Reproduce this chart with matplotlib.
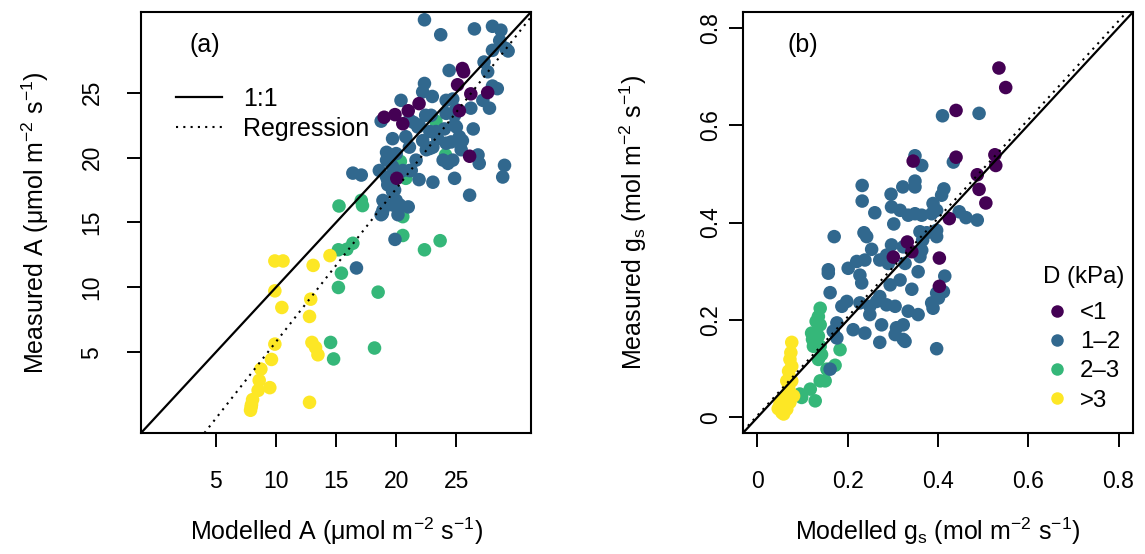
import matplotlib
matplotlib.use("Agg")
import matplotlib.pyplot as plt
from matplotlib.lines import Line2D

plt.rcParams['font.family'] = ['Liberation Sans', 'DejaVu Sans']
plt.rcParams['mathtext.fontset'] = 'custom'
plt.rcParams['mathtext.rm'] = 'Liberation Sans'
plt.rcParams['mathtext.it'] = 'Liberation Sans:italic'
plt.rcParams['mathtext.bf'] = 'Liberation Sans:bold'

TICK_FS = 16.5
LABEL_FS = 18
LEGA_FS = 18
LEGB_FS = 17.3
COLS = ['#440154', '#31688E', '#35B779', '#FDE725']
LEGEND_TITLE = 'D (kPa)'
LEGEND_LABELS = ['<1', '1\u20132', '2\u20133', '>3']

# ---------------- Panel (a): photosynthesis ----------------
a_lt1_x = [25.5, 25.6, 25.1, 26.2, 27.6, 21.9, 21.0, 19.9, 19.0, 20.55, 25.25, 26.1, 20.05]
a_lt1_y = [26.85, 26.6, 25.6, 24.9, 25.0, 24.15, 23.6, 23.3, 23.1, 22.6, 23.6, 20.1, 18.4]

a_12_x = [22.35, 23.7, 26.5, 28.0, 28.7, 28.6, 29.1, 28.0, 27.3, 29.3, 24.4, 22.35, 22.2, 23.0,
          24.15, 28.0, 28.4, 27.2, 27.75, 26.2, 24.85, 22.9, 22.45, 21.1, 20.4, 19.7, 20.8, 21.8,
          22.2, 23.3, 24.0, 25.25, 26.4, 25.0, 24.15, 23.05, 22.5, 19.2, 20.0, 19.2, 18.6, 19.7,
          21.1, 21.9, 23.05, 24.7, 24.85, 25.4, 26.8, 26.9, 29.0, 28.85, 26.1, 16.4, 17.1, 19.2,
          19.3, 19.7, 20.0, 21.0, 18.9, 20.3, 18.75, 19.7, 18.85, 20.15, 19.9, 16.7, 27.6, 24.15,
          24.95, 24.7, 18.75, 21.45, 21.9, 22.8, 24.85, 25.5, 24.57, 23.45, 21.1, 19.45, 21.65,
          22.8, 23.9, 24.3, 19.3, 21.25, 19.87, 20.55, 18.9]
a_12_y = [30.6, 29.45, 29.9, 30.1, 29.8, 29.0, 28.4, 28.25, 27.35, 28.2, 26.7, 25.7, 25.05, 24.7,
          24.4, 25.5, 25.3, 24.4, 23.8, 23.8, 23.25, 23.25, 23.25, 22.9, 24.4, 21.45, 21.6, 22.35,
          21.3, 22.0, 22.2, 21.6, 22.2, 22.35, 21.1, 20.8, 20.6, 20.4, 20.3, 19.8, 19.0, 19.3,
          19.0, 18.3, 18.1, 19.8, 18.4, 20.6, 20.2, 19.55, 19.4, 18.5, 17.1, 18.8, 18.65, 18.5,
          17.9, 17.4, 16.7, 16.2, 15.95, 16.35, 15.6, 16.35, 15.7, 15.6, 13.7, 11.5, 26.6, 23.4,
          23.7, 24.5, 22.8, 22.7, 22.5, 22.0, 22.5, 21.3, 21.2, 21.45, 20.8, 19.8, 19.8,
          20.7, 19.8, 19.55, 18.26, 19.0, 17.5, 19.0, 16.7]

a_23_x = [15.25, 17.1, 17.2, 20.55, 20.55, 15.2, 15.9, 16.4, 15.45, 15.2, 18.5, 22.35, 23.65,
          14.55, 14.8, 18.2, 20.8, 20.35, 24.1, 23.3]
a_23_y = [16.27, 16.7, 16.3, 15.45, 14.0, 12.9, 12.94, 13.4, 11.1, 10.0, 9.64, 12.9, 13.6,
          5.77, 4.5, 5.34, 18.4, 19.7, 20.2, 22.8]

a_gt3_x = [9.92, 10.6, 13.1, 14.5, 9.92, 10.5, 12.9, 12.8, 9.92, 9.64, 13.0, 13.3, 13.5, 8.76,
           8.62, 8.53, 9.5, 8.07, 7.98, 7.9, 7.95, 12.8]
a_gt3_y = [12.04, 12.04, 11.7, 12.45, 9.74, 8.46, 9.1, 7.77, 5.64, 4.46, 5.77, 5.38, 4.82, 3.72,
           2.85, 2.08, 2.29, 1.37, 0.98, 0.55, 0.8, 1.16]

a_ticks = [5, 10, 15, 20, 25]
a_lim = (0, 30)
a_reg_intercept, a_reg_slope = -6.0, 1.18

# ---------------- Panel (b): stomatal conductance ----------------
b_lt1_x = [0.535, 0.55, 0.44, 0.345, 0.44, 0.526, 0.528, 0.487, 0.491, 0.506, 0.425, 0.332,
           0.342, 0.403, 0.403, 0.301]
b_lt1_y = [0.717, 0.677, 0.63, 0.526, 0.534, 0.539, 0.517, 0.498, 0.468, 0.44, 0.408, 0.36,
           0.34, 0.327, 0.269, 0.329]

b_12_x = [0.41, 0.491, 0.349, 0.364, 0.434, 0.232, 0.232, 0.296, 0.322, 0.349, 0.349, 0.413,
          0.408, 0.26, 0.297, 0.316, 0.334, 0.349, 0.364, 0.389, 0.397, 0.386, 0.447, 0.462,
          0.487, 0.302, 0.236, 0.242, 0.17, 0.253, 0.297, 0.323, 0.36, 0.375, 0.397, 0.397,
          0.366, 0.364, 0.22, 0.238, 0.271, 0.286, 0.201, 0.157, 0.36, 0.327, 0.356, 0.29,
          0.316, 0.294, 0.342, 0.415, 0.412, 0.397, 0.386, 0.389, 0.286, 0.305, 0.334, 0.356,
          0.271, 0.275, 0.323, 0.305, 0.323, 0.271, 0.397, 0.157, 0.161, 0.187, 0.198, 0.227,
          0.231, 0.227, 0.176, 0.168, 0.176, 0.212, 0.238, 0.249, 0.249, 0.264, 0.308, 0.327,
          0.401, 0.161]
b_12_y = [0.619, 0.624, 0.537, 0.517, 0.524, 0.476, 0.444, 0.458, 0.473, 0.485, 0.473, 0.469,
          0.456, 0.42, 0.432, 0.425, 0.415, 0.418, 0.415, 0.439, 0.425, 0.418, 0.422, 0.41,
          0.405, 0.397, 0.379, 0.371, 0.371, 0.345, 0.354, 0.35, 0.381, 0.379, 0.384, 0.371,
          0.364, 0.343, 0.32, 0.323, 0.323, 0.333, 0.306, 0.303, 0.33, 0.316, 0.299, 0.316,
          0.282, 0.272, 0.263, 0.29, 0.258, 0.255, 0.235, 0.224, 0.231, 0.228, 0.218, 0.211,
          0.248, 0.19, 0.19, 0.17, 0.16, 0.154, 0.141, 0.296, 0.256, 0.228, 0.238, 0.292,
          0.276, 0.235, 0.194, 0.177, 0.163, 0.18, 0.173, 0.211, 0.228, 0.238, 0.184, 0.156,
          0.245, 0.099]

b_23_x = [0.139, 0.135, 0.13, 0.139, 0.12, 0.135, 0.122, 0.124, 0.139, 0.142, 0.135, 0.183,
          0.172, 0.154, 0.139, 0.15, 0.117, 0.094, 0.098, 0.128]
b_23_y = [0.224, 0.207, 0.197, 0.19, 0.173, 0.167, 0.16, 0.146, 0.146, 0.129, 0.119, 0.139,
          0.107, 0.099, 0.075, 0.075, 0.058, 0.048, 0.041, 0.034]

b_gt3_x = [0.076, 0.074, 0.072, 0.076, 0.069, 0.072, 0.065, 0.069, 0.072, 0.065, 0.054, 0.05,
           0.058, 0.046, 0.054, 0.065, 0.058, 0.072, 0.069, 0.061, 0.08, 0.076]
b_gt3_y = [0.154, 0.133, 0.119, 0.105, 0.095, 0.082, 0.075, 0.064, 0.051, 0.044, 0.037, 0.029,
           0.024, 0.018, 0.01, 0.017, 0.007, 0.031, 0.058, 0.034, 0.044, 0.075]

b_ticks = [0, 0.2, 0.4, 0.6, 0.8]
b_ticklabels = ['0', '0.2', '0.4', '0.6', '0.8']
b_lim = (0, 0.8)
b_reg_intercept, b_reg_slope = 0.004, 1.012

# ---------------- figure ----------------
W, H = 1145, 554
fig = plt.figure(figsize=(W / 100, H / 100), dpi=100)
ax_a = fig.add_axes([141 / W, 1 - 433 / H, 390 / W, 421 / H])
ax_b = fig.add_axes([743 / W, 1 - 433 / H, 390 / W, 421 / H])

MS = 95


def style(ax, lim, ticks, ticklabels, ypad):
    ext = 0.04 * (lim[1] - lim[0])
    ax.set_xlim(lim[0] - ext, lim[1] + ext)
    ax.set_ylim(lim[0] - ext, lim[1] + ext)
    ax.set_xticks(ticks)
    ax.set_yticks(ticks)
    ax.set_xticklabels(ticklabels, fontsize=TICK_FS)
    ax.set_yticklabels(ticklabels, fontsize=TICK_FS, rotation=90, va='center')
    ax.tick_params(axis='both', direction='out', length=10, width=1.4, color='black')
    ax.tick_params(axis='x', pad=17)
    ax.tick_params(axis='y', pad=ypad)
    for sp in ax.spines.values():
        sp.set_linewidth(1.5)


def draw(ax, groups, reg_int, reg_slope):
    order = [2, 1, 0, 3]
    for i in order:
        gx, gy = groups[i]
        ax.scatter(gx, gy, s=MS, c=COLS[i], edgecolors='none', zorder=2)
    ax.axline((0, 0), slope=1, color='black', lw=1.6, zorder=3)
    ax.axline((0, reg_int), slope=reg_slope, color='black', lw=1.5,
              linestyle=(0, (1, 2.5)), zorder=3)


draw(ax_a, [(a_lt1_x, a_lt1_y), (a_12_x, a_12_y), (a_23_x, a_23_y), (a_gt3_x, a_gt3_y)],
     a_reg_intercept, a_reg_slope)
draw(ax_b, [(b_lt1_x, b_lt1_y), (b_12_x, b_12_y), (b_23_x, b_23_y), (b_gt3_x, b_gt3_y)],
     b_reg_intercept, b_reg_slope)

style(ax_a, a_lim, a_ticks, [str(t) for t in a_ticks], 17)
style(ax_b, b_lim, b_ticks, b_ticklabels, 5)

# axis labels
ax_a.set_xlabel('Modelled A ($\\mathrm{\u03bc}$mol m$^{-2}$ s$^{-1}$)', fontsize=LABEL_FS)
ax_a.set_ylabel('Measured A ($\\mathrm{\u03bc}$mol m$^{-2}$ s$^{-1}$)', fontsize=LABEL_FS)
ax_b.set_xlabel('Modelled g$_{\\mathrm{s}}$ (mol m$^{-2}$ s$^{-1}$)', fontsize=LABEL_FS)
ax_b.set_ylabel('Measured g$_{\\mathrm{s}}$ (mol m$^{-2}$ s$^{-1}$)', fontsize=LABEL_FS)
for ax, ylx in ((ax_a, (35 - 141) / 390), (ax_b, (633 - 743) / 390)):
    ax.xaxis.set_label_coords(0.5, (433 - 531.7) / 421)
    ax.xaxis.label.set_va('center')
    ax.yaxis.set_label_coords(ylx, 0.5)
    ax.yaxis.label.set_va('center')

ax_a.text(0.164, 0.922, '(a)', transform=ax_a.transAxes, fontsize=LABEL_FS, ha='center', va='center')
ax_b.text(0.154, 0.922, '(b)', transform=ax_b.transAxes, fontsize=LABEL_FS, ha='center', va='center')

# legend (a): line types
line_handles = [Line2D([], [], color='black', lw=1.6),
                Line2D([], [], color='black', lw=1.5, linestyle=(0, (1, 2.5)))]
ax_a.legend(line_handles, ['1:1', 'Regression'], loc='upper left',
            bbox_to_anchor=(0.09, 0.823), frameon=False, fontsize=LEGA_FS,
            handlelength=1.84, handletextpad=0.84, labelspacing=0.24,
            borderpad=0, borderaxespad=0)

# legend (b): D classes
ax_b.text(0.769, 0.371, LEGEND_TITLE, transform=ax_b.transAxes, fontsize=LEGB_FS,
          ha='left', va='center')
pt_handles = [Line2D([], [], linestyle='none', marker='o', markersize=9,
                     markerfacecolor=c, markeredgecolor='none') for c in COLS]
ax_b.legend(pt_handles, LEGEND_LABELS,
            loc='upper left', bbox_to_anchor=(0.774, 0.311), frameon=False,
            fontsize=LEGB_FS, handlelength=1.0, handletextpad=0.45, labelspacing=0.3,
            borderpad=0, borderaxespad=0)

fig.savefig('out.png', dpi=100)
